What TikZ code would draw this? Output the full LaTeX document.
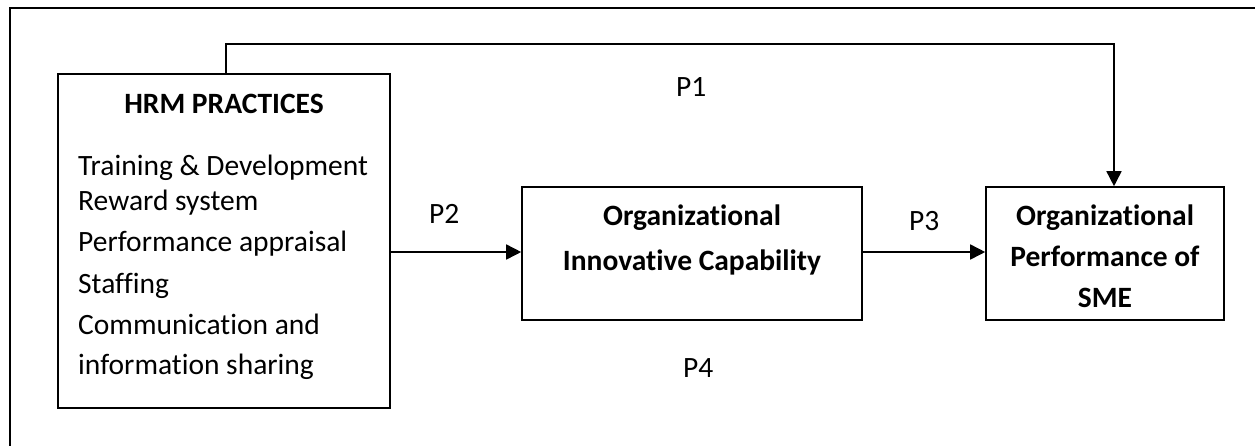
\documentclass[tikz,border=0pt]{standalone}
\usepackage{fontspec}
\setmainfont[Ligatures={NoCommon}]{Carlito}
\usetikzlibrary{arrows.meta}
\begin{document}
\begin{tikzpicture}[x=1pt,y=-1pt,
  box/.style={draw,line width=1.6pt,inner sep=0pt},
  arr/.style={line width=1.6pt,-{Triangle[length=15pt,width=15pt]}},
  txt/.style={inner sep=0pt,font=\fontsize{29.5}{34}\selectfont},
  btxt/.style={inner sep=0pt,font=\fontsize{29.5}{34}\selectfont\bfseries}]
\useasboundingbox (0,0) rectangle (1255,445);
\draw[line width=1.4pt] (10,450) -- (10,8) -- (1260,8);
% boxes
\node[box,minimum width=332pt,minimum height=334pt] (hrm) at (224,241) {};
\node[box,minimum width=340pt,minimum height=133pt] (oic) at (692,253.5) {};
\node[box,minimum width=238pt,minimum height=133pt] (ops) at (1105,253.5) {};
% hrm text
\node[btxt,anchor=base] (h0) at (224,113) {HRM PRACTICES};
\node[txt,anchor=base west] (h1) at (78,175) {Training \& Development};
\node[txt,anchor=base west] (h2) at (78,210) {Reward system};
\node[txt,anchor=base west] (h3) at (78,251) {Performance appraisal};
\node[txt,anchor=base west] (h4) at (78,293) {Staffing};
\node[txt,anchor=base west] (h5) at (78,334) {Communication and};
\node[txt,anchor=base west] (h6) at (78,374) {information sharing};
% oic text
\node[btxt,anchor=base] (o1) at (692,225) {Organizational};
\node[btxt,anchor=base] (o2) at (692,270) {Innovative Capability};
% ops text
\node[btxt,anchor=base] (s1) at (1105,225) {Organizational};
\node[btxt,anchor=base] (s2) at (1105,266) {Performance of};
\node[btxt,anchor=base] (s3) at (1105,307) {SME};
% connectors
\coordinate (c1) at (1114,44);
\draw[arr] (226,74) |- (c1) -- (c1 |- ops.north);
\draw[arr] (hrm.east |- 0,252) -- (oic.west |- 0,252);
\draw[arr] (oic.east |- 0,252) -- (ops.west |- 0,252);
% labels
\node[txt,anchor=base west] (p1) at (676,96) {P1};
\node[txt,anchor=base west] (p2) at (429,223) {P2};
\node[txt,anchor=base west] (p3) at (909,230) {P3};
\node[txt,anchor=base west] (p4) at (683,377) {P4};
\end{tikzpicture}
\end{document}
